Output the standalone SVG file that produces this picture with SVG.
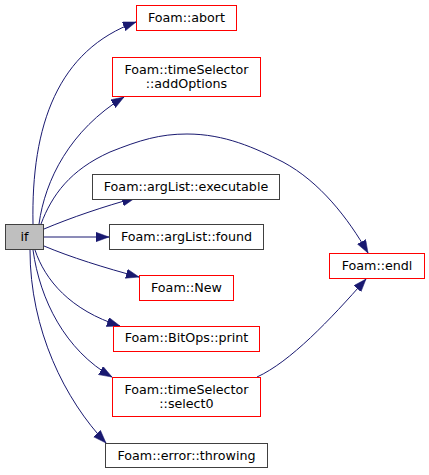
<svg xmlns="http://www.w3.org/2000/svg" width="429" height="475" viewBox="0 0 429 475">
<style>
  .box { fill: #ffffff; stroke: #404040; stroke-width: 1; }
  .red { fill: #ffffff; stroke: #ff0000; stroke-width: 1; }
  .root { fill: #bfbfbf; stroke: #404040; stroke-width: 1; }
  .lbl { font-family: "DejaVu Sans", sans-serif; font-size: 12.7px; fill: #000000; text-anchor: middle; }
  .edge { fill: none; stroke: #191970; stroke-width: 1; marker-end: url(#ah); }
</style>
<defs>
  <marker id="ah" markerUnits="userSpaceOnUse" markerWidth="14" markerHeight="10" refX="13" refY="4.7" orient="auto">
    <path d="M0,0 L13,4.7 L0,9.4 z" fill="#191970" stroke="#191970" stroke-width="0.5"/>
  </marker>
</defs>
<g id="edges">
  <path class="edge" d="M33,224 C 31,125 58,50 136,22"/>
  <path class="edge" d="M39,224 C 45,180 70,130 124,97"/>
  <path class="edge" d="M41,224 C 52,195 70,170 110,152 C 140,140 160,134 187,134 C 225,134 255,148 283,162 C 320,182 348,218 368,253"/>
  <path class="edge" d="M44,229 C 70,218 105,206 135,198"/>
  <path class="edge" d="M44,237 L109,237"/>
  <path class="edge" d="M44,246 C 70,257 105,268 139,277"/>
  <path class="edge" d="M35,250 C 45,280 70,310 120,326"/>
  <path class="edge" d="M33,250 C 40,300 65,350 112,377"/>
  <path class="edge" d="M30,250 C 30,330 65,400 106,443"/>
  <path class="edge" d="M257,377 C 290,362 330,320 366,279"/>
</g>
<g id="node-if">
  <rect class="root" x="5.5" y="224.5" width="38" height="25"/>
  <text class="lbl" x="24.5" y="241">if</text>
</g>
<g id="node-abort">
  <rect class="red" x="136.5" y="5.5" width="100" height="25"/>
  <text class="lbl" x="186.5" y="22">Foam::abort</text>
</g>
<g id="node-addOptions">
  <rect class="red" x="112.5" y="57.5" width="148" height="39"/>
  <text class="lbl" x="186.5" y="74">Foam::timeSelector</text>
  <text class="lbl" x="186.5" y="88">::addOptions</text>
</g>
<g id="node-executable">
  <rect class="box" x="92.5" y="174.5" width="187" height="25"/>
  <text class="lbl" x="186" y="190.5">Foam::argList::executable</text>
</g>
<g id="node-found">
  <rect class="box" x="109.5" y="224.5" width="154" height="25"/>
  <text class="lbl" x="186.5" y="241">Foam::argList::found</text>
</g>
<g id="node-New">
  <rect class="red" x="139.5" y="275.5" width="94" height="25"/>
  <text class="lbl" x="186.5" y="291.5">Foam::New</text>
</g>
<g id="node-print">
  <rect class="red" x="113.5" y="326.5" width="146" height="25"/>
  <text class="lbl" x="186.5" y="342">Foam::BitOps::print</text>
</g>
<g id="node-select0">
  <rect class="red" x="112.5" y="377.5" width="148" height="39"/>
  <text class="lbl" x="186.5" y="394">Foam::timeSelector</text>
  <text class="lbl" x="186.5" y="408">::select0</text>
</g>
<g id="node-throwing">
  <rect class="box" x="105.5" y="443.5" width="162" height="24"/>
  <text class="lbl" x="186.5" y="459.5">Foam::error::throwing</text>
</g>
<g id="node-endl">
  <rect class="red" x="329.5" y="253.5" width="95" height="25"/>
  <text class="lbl" x="377" y="270">Foam::endl</text>
</g>
</svg>
